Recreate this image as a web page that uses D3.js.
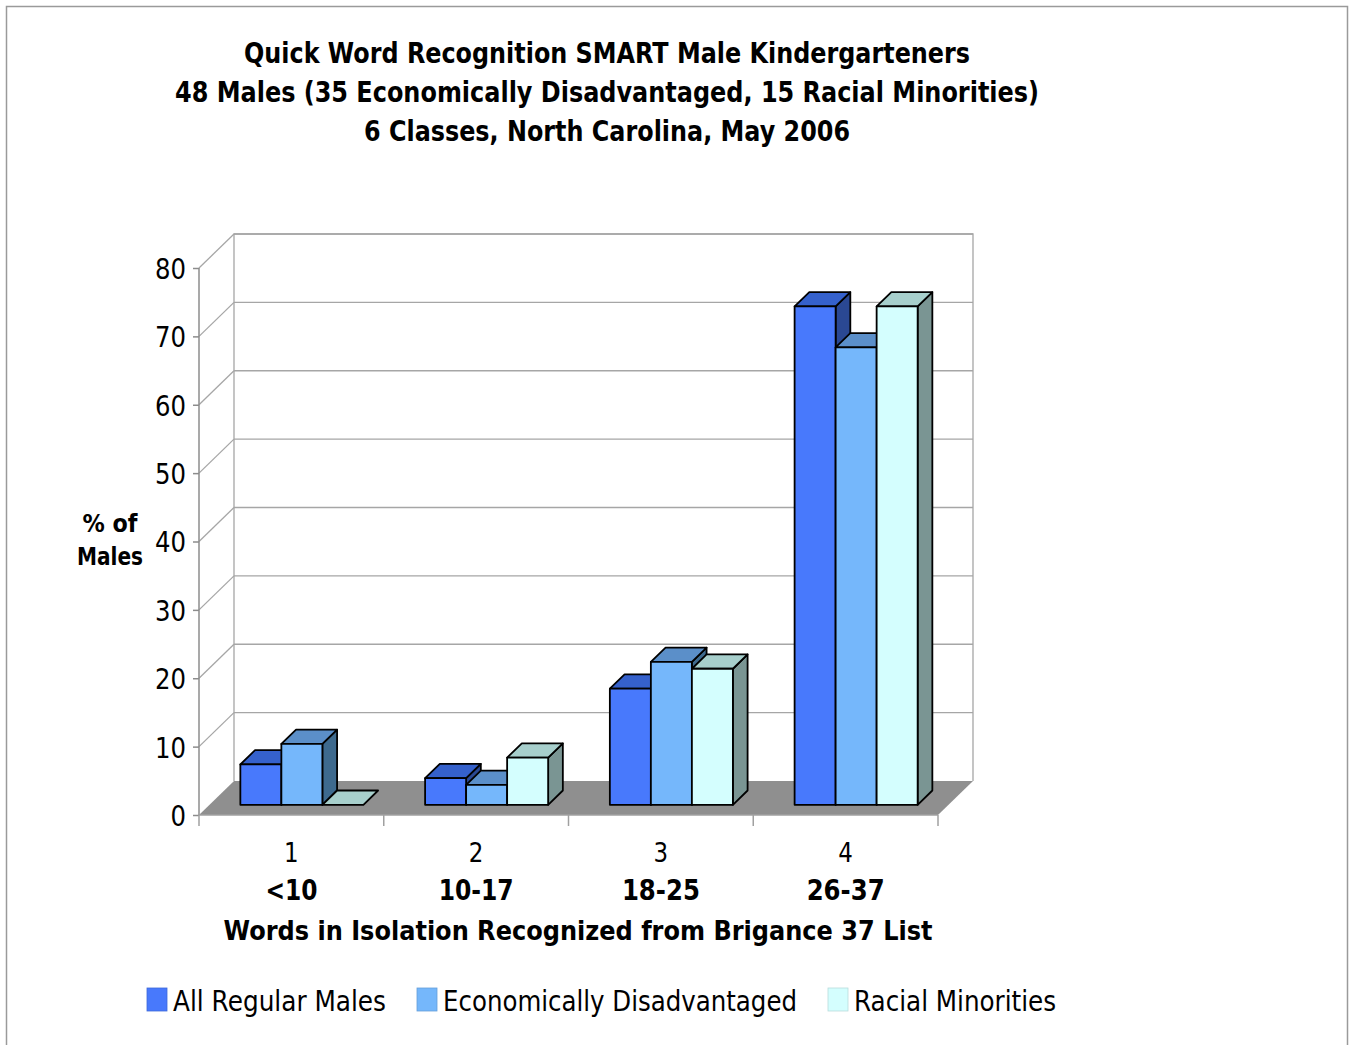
<!DOCTYPE html>
<html>
<head>
<meta charset="utf-8">
<script src="https://cdn.jsdelivr.net/npm/d3@7"></script>
<style>
  html, body { margin: 0; padding: 0; background: #fff; }
  svg { display: block; font-family: "DejaVu Sans", Verdana, sans-serif; }
</style>
</head>
<body>
<svg id="chart" width="1355" height="1045"></svg>
<script>
// ---------------- data ----------------
const categories = ["1", "2", "3", "4"];
const rangeLabels = ["<10", "10-17", "18-25", "26-37"];
const seriesNames = ["All Regular Males", "Economically Disadvantaged", "Racial Minorities"];
const allRegularMales = [5.9, 3.9, 17.0, 72.9];
const economicallyDisadvantaged = [8.9, 2.9, 20.9, 66.9];
const racialMinorities = [0, 6.9, 19.9, 72.9];
const yTicks = [0, 10, 20, 30, 40, 50, 60, 70, 80];
const titleLines = [
  "Quick Word Recognition SMART Male Kindergarteners",
  "48 Males (35 Economically Disadvantaged, 15 Racial Minorities)",
  "6 Classes, North Carolina, May 2006"
];
const yLabelLines = ["% of", "Males"];
const xTitle = "Words in Isolation Recognized from Brigance 37 List";

const seriesValues = [allRegularMales, economicallyDisadvantaged, racialMinorities];
const colors = [
  { front: "#4879fc", top: "#3561cc", side: "#2a4893" },
  { front: "#75b7fb", top: "#5b8fc9", side: "#3e6a8e" },
  { front: "#d4fefe", top: "#a7cfcc", side: "#7a9593" }
];

// ---------------- layout ----------------
const svg = d3.select("#chart");
const X0 = 199, X1 = 938, Y0 = 815, Y80 = 268;
const DX = 35, DY = -34;          // full depth offset of the 3D box
const zFront = 0.3, zBack = 0.72;  // bar depth fraction

const y = d3.scaleLinear().domain([0, 80]).range([Y0, Y80]);
const x = d3.scaleBand().domain(categories).range([X0, X1]);
const groupW = x.bandwidth() * 0.666;
const xs = d3.scaleBand().domain(seriesNames)
  .range([(x.bandwidth() - groupW) / 2, (x.bandwidth() + groupW) / 2]);

function condense(sel, k) {
  sel.each(function () {
    const w = this.getComputedTextLength();
    d3.select(this).attr("textLength", w * k).attr("lengthAdjust", "spacingAndGlyphs");
  });
}
function fitWidth(sel, w) {
  sel.attr("textLength", w).attr("lengthAdjust", "spacingAndGlyphs");
}

// outer frame
svg.append("rect").attr("x", 6.5).attr("y", 6.5).attr("width", 1341).attr("height", 1100)
  .attr("fill", "none").attr("stroke", "#9a9a9a").attr("stroke-width", 1.5);

// ---------------- title ----------------
const titleBase = [63, 102, 141];
const titleW = [726, 864, 486];
titleLines.forEach((t, i) => {
  svg.append("text").attr("x", 607).attr("y", titleBase[i]).attr("text-anchor", "middle")
    .attr("font-weight", "bold").attr("font-size", 28).attr("fill", "#000").text(t)
    .call(fitWidth, titleW[i]);
});

// ---------------- walls and grid ----------------
const grid = svg.append("g").attr("stroke", "#a6a6a6").attr("stroke-width", 1.3).attr("fill", "none");
// floor
svg.append("polygon")
  .attr("points", [[X0, Y0], [X1, Y0], [X1 + DX, Y0 + DY], [X0 + DX, Y0 + DY]].map(p => p.join(",")).join(" "))
  .attr("fill", "#8f8f8f");
// back wall frame
grid.append("path").attr("d",
  `M${X0 + DX},${Y0 + DY}V${y(80) + DY}H${X1 + DX}V${Y0 + DY}`);
// gridlines on back wall + left wall diagonals
yTicks.filter(v => v > 0).forEach(v => {
  grid.append("line").attr("x1", X0 + DX).attr("x2", X1 + DX)
    .attr("y1", y(v) + DY).attr("y2", y(v) + DY);
  grid.append("line").attr("x1", X0).attr("x2", X0 + DX)
    .attr("y1", y(v)).attr("y2", y(v) + DY);
});

// y axis
const yAxis = d3.axisLeft(y).tickValues(yTicks).tickSize(6).tickPadding(7);
const gy = svg.append("g").attr("transform", `translate(${X0},0)`).call(yAxis);
gy.select(".domain").attr("stroke", "#8c8c8c").attr("stroke-width", 1.5).attr("d", `M0,${Y0}V${Y80}`);
gy.selectAll(".tick line").attr("stroke", "#8c8c8c").attr("stroke-width", 1.5);
gy.selectAll(".tick text").attr("font-size", 29).attr("font-family", "DejaVu Sans, sans-serif")
  .attr("fill", "#000").attr("dy", "0.36em").call(condense, 0.84);

// x axis
const gx = svg.append("g").attr("transform", `translate(0,${Y0})`);
gx.append("line").attr("x1", X0).attr("x2", X1).attr("y1", 0).attr("y2", 0)
  .attr("stroke", "#a0a0a0").attr("stroke-width", 1.5);
const boundaries = categories.map(c => x(c)).concat([X1]);
gx.selectAll("line.tk").data(boundaries).join("line").attr("class", "tk")
  .attr("x1", d => d).attr("x2", d => d).attr("y1", 0).attr("y2", 11)
  .attr("stroke", "#a0a0a0").attr("stroke-width", 1.5);

// category labels
const rangeW = [52, 75, 78, 78];
categories.forEach((c, i) => {
  const cx = x(c) + x.bandwidth() / 2;
  svg.append("text").attr("x", cx).attr("y", 862).attr("text-anchor", "middle")
    .attr("font-size", 27).attr("fill", "#000").text(c).call(condense, 0.85);
  svg.append("text").attr("x", cx).attr("y", 900).attr("text-anchor", "middle")
    .attr("font-size", 28).attr("font-weight", "bold").attr("fill", "#000").text(rangeLabels[i])
    .call(fitWidth, rangeW[i]);
});
svg.append("text").attr("x", 578).attr("y", 940).attr("text-anchor", "middle")
  .attr("font-size", 27).attr("font-weight", "bold").attr("fill", "#000").text(xTitle)
  .call(fitWidth, 709);

// y label
yLabelLines.forEach((t, i) => {
  svg.append("text").attr("x", 110).attr("y", 532 + i * 33).attr("text-anchor", "middle")
    .attr("font-size", 25).attr("font-weight", "bold").attr("fill", "#000").text(t)
    .call(fitWidth, i === 0 ? 55 : 66);
});

// ---------------- bars ----------------
const fdx = DX * zFront, fdy = DY * zFront;
const bdx = DX * (zBack - zFront), bdy = DY * (zBack - zFront);
const bars = svg.append("g").attr("stroke", "#000").attr("stroke-width", 1.8).attr("stroke-linejoin", "round");
categories.forEach((c, ci) => {
  seriesNames.forEach((s, si) => {
    const v = seriesValues[si][ci];
    const xl = x(c) + xs(s) + fdx;
    const xr = xl + xs.bandwidth();
    const yb = y(0) + fdy;
    const yt = y(v) + fdy;
    const col = colors[si];
    const pts = a => a.map(p => p.join(",")).join(" ");
    // side
    if (v > 0) {
      bars.append("polygon").attr("fill", col.side)
        .attr("points", pts([[xr, yb], [xr + bdx, yb + bdy], [xr + bdx, yt + bdy], [xr, yt]]));
    }
    // top
    bars.append("polygon").attr("fill", col.top)
      .attr("points", pts([[xl, yt], [xl + bdx, yt + bdy], [xr + bdx, yt + bdy], [xr, yt]]));
    // front
    if (v > 0) {
      bars.append("rect").attr("fill", col.front)
        .attr("x", xl).attr("y", yt).attr("width", xr - xl).attr("height", yb - yt);
    }
  });
});

// ---------------- legend ----------------
const legendX = [147, 417, 828];
const legendW = [213, 354, 202];
seriesNames.forEach((s, i) => {
  svg.append("rect").attr("x", legendX[i]).attr("y", 988).attr("width", 20).attr("height", 23)
    .attr("fill", colors[i].front).attr("stroke", d3.color(colors[i].front).darker(0.4)).attr("stroke-width", 0.8);
  svg.append("text").attr("x", legendX[i] + 26).attr("y", 1011)
    .attr("font-size", 29).attr("fill", "#000").text(s).call(fitWidth, legendW[i]);
});
</script>
</body>
</html>
